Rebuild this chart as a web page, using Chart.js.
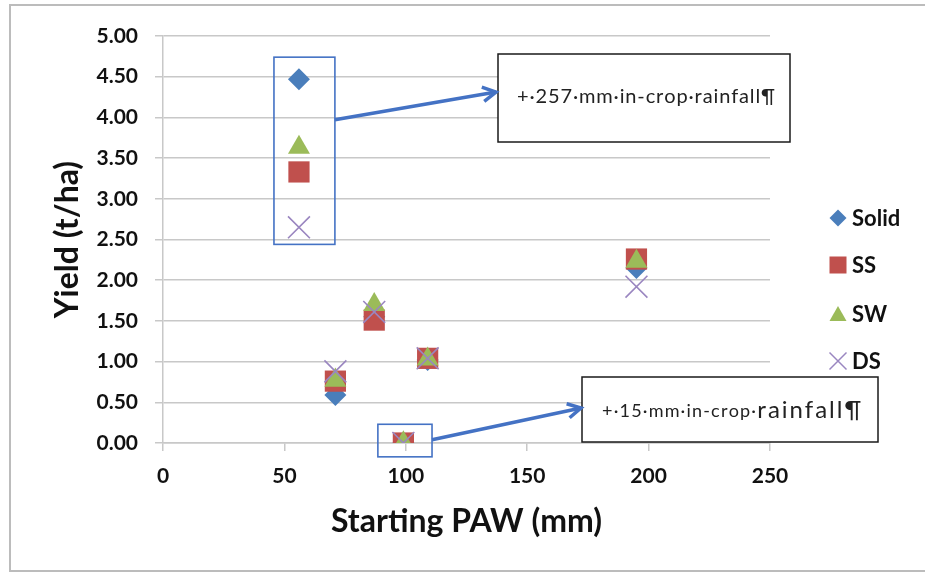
<!DOCTYPE html>
<html><head><meta charset="utf-8">
<script src="https://cdn.jsdelivr.net/npm/chart.js@4.4.1/dist/chart.umd.min.js"></script>
<style>html,body{margin:0;padding:0;background:#fff;}canvas{display:block;}</style>
</head><body>
<canvas id="c" width="925" height="574"></canvas>
<script>
// ---- data ----
const seriesNames = ['Solid', 'SS', 'SW', 'DS'];
const paw   = [56, 71, 87, 99, 109, 195];          // Starting PAW (mm)
const solid = [4.47, 0.59, 1.55, 0.00, 1.02, 2.15];
const ss    = [3.33, 0.76, 1.51, 0.00, 1.04, 2.26];
const sw    = [3.63, 0.77, 1.70, 0.00, 1.03, 2.23];
const ds    = [2.65, 0.88, 1.61, 0.00, 1.04, 1.92];
const xTickValues = [0, 50, 100, 150, 200, 250];
const yTickValues = [0, 0.5, 1, 1.5, 2, 2.5, 3, 3.5, 4, 4.5, 5];
const xTitle = 'Starting PAW (mm)';
const yTitle = 'Yield (t/ha)';
const note1 = '+·257·mm·in-crop·rainfall¶';
const note2a = '+·15·mm·in-crop·';
const note2b = 'rainfall¶';

// ---- styles ----
const FONT = 'Lato, "Open Sans", sans-serif';
const colors = ['#4a7ebb', '#c0504d', '#9bbb59', '#9a86c0'];
const styles = ['rectRot', 'rect', 'triangle', 'crossRot'];
const radii = [11, 15, 12.7, 15.5];

const toPts = arr => paw.map((x, i) => ({x: x, y: arr[i]}));
const seriesData = [solid, ss, sw, ds];

const datasets = seriesNames.map((name, i) => ({
  label: name,
  data: toPts(seriesData[i]),
  pointStyle: styles[i],
  pointRadius: radii[i],
  backgroundColor: colors[i],
  borderColor: colors[i],
  borderWidth: i === 3 ? 1.6 : 0,
  order: 4 - i,
  showLine: false
}));

const framePlugin = {
  id: 'frame',
  beforeDraw(chart) {
    const c = chart.ctx;
    c.save();
    c.fillStyle = '#fff';
    c.fillRect(0, 0, chart.width, chart.height);
    c.strokeStyle = '#bcbcbc';
    c.lineWidth = 2;
    c.strokeRect(10, 5, 940, 566);
    c.restore();
  }
};

function arrow(c, x1, y1, x2, y2) {
  c.beginPath();
  c.moveTo(x1, y1);
  c.lineTo(x2, y2);
  c.stroke();
  const a = Math.atan2(y2 - y1, x2 - x1);
  const L = 15, w = 0.5;
  c.beginPath();
  c.moveTo(x2 - L * Math.cos(a - w), y2 - L * Math.sin(a - w));
  c.lineTo(x2, y2);
  c.lineTo(x2 - L * Math.cos(a + w), y2 - L * Math.sin(a + w));
  c.stroke();
}

// draw text stretched to a target width by spacing the characters; returns end x
function spacedText(c, text, x, y, targetW) {
  const chars = Array.from(text);
  const widths = chars.map(ch => c.measureText(ch).width);
  const total = widths.reduce((a, b) => a + b, 0);
  const gap = chars.length > 1 ? (targetW - total) / (chars.length - 1) : 0;
  let cx = x;
  chars.forEach((ch, i) => { c.fillText(ch, cx, y); cx += widths[i] + (i < chars.length - 1 ? gap : 0); });
  return {end: cx, gap: gap};
}

function legendMarker(c, style, x, y, color) {
  c.save();
  c.fillStyle = color; c.strokeStyle = color;
  c.beginPath();
  if (style === 'rectRot') {
    const r = 8.5;
    c.moveTo(x, y - r); c.lineTo(x + r, y); c.lineTo(x, y + r); c.lineTo(x - r, y); c.closePath(); c.fill();
  } else if (style === 'rect') {
    c.fillRect(x - 8.5, y - 8.5, 17, 17);
  } else if (style === 'triangle') {
    c.moveTo(x, y - 8); c.lineTo(x + 8.5, y + 7); c.lineTo(x - 8.5, y + 7); c.closePath(); c.fill();
  } else {
    c.lineWidth = 1.5;
    c.moveTo(x - 8.5, y - 8.5); c.lineTo(x + 8.5, y + 8.5);
    c.moveTo(x + 8.5, y - 8.5); c.lineTo(x - 8.5, y + 8.5);
    c.stroke();
  }
  c.restore();
}

const annotPlugin = {
  id: 'annot',
  afterDraw(chart) {
    const c = chart.ctx;
    const xs = chart.scales.x, ys = chart.scales.y;
    c.save();
    // boxes around point groups (data units)
    c.strokeStyle = '#4472c4';
    c.lineWidth = 1.6;
    const b1 = [xs.getPixelForValue(45.7), ys.getPixelForValue(4.74), xs.getPixelForValue(70.8), ys.getPixelForValue(2.44)];
    const b2 = [xs.getPixelForValue(88.5), ys.getPixelForValue(0.23), xs.getPixelForValue(110.8), ys.getPixelForValue(-0.17)];
    c.strokeRect(b1[0], b1[1], b1[2] - b1[0], b1[3] - b1[1]);
    c.strokeRect(b2[0], b2[1], b2[2] - b2[0], b2[3] - b2[1]);

    // text boxes
    const t1 = {x: 498, y: 54, w: 292, h: 88};
    const t2 = {x: 582, y: 377, w: 296, h: 65};
    [t1, t2].forEach(t => {
      c.fillStyle = '#fff';
      c.fillRect(t.x, t.y, t.w, t.h);
      c.strokeStyle = '#1a1a1a';
      c.lineWidth = 1.5;
      c.strokeRect(t.x, t.y, t.w, t.h);
    });

    // arrows
    c.strokeStyle = '#4472c4';
    c.lineWidth = 3.5;
    c.lineCap = 'butt';
    c.lineJoin = 'miter';
    arrow(c, b1[2], ys.getPixelForValue(3.97), t1.x - 2, 92);
    arrow(c, b2[2], ys.getPixelForValue(0.04), t2.x - 1, 408);

    // note text
    c.fillStyle = '#222';
    c.textBaseline = 'middle';
    c.textAlign = 'left';
    c.font = '20px ' + FONT;
    spacedText(c, note1, 517, 97, 258);
    c.font = '18px ' + FONT;
    const r = spacedText(c, note2a, 602, 411, 154);
    c.font = '24px ' + FONT;
    spacedText(c, note2b, r.end + r.gap, 410, 104);

    // legend
    const rows = [218, 265, 314, 361];
    c.font = 'bold 22px ' + FONT;
    seriesNames.forEach((n, i) => {
      legendMarker(c, styles[i], 838, rows[i], colors[i]);
      c.fillStyle = '#111';
      c.fillText(n, 852, rows[i] + 1);
    });
    c.restore();
  }
};

const tickFont = {family: FONT, size: 21, weight: 'bold'};
const gridCol = '#c8c8c8';

new Chart(document.getElementById('c').getContext('2d'), {
  type: 'scatter',
  data: {datasets: datasets},
  options: {
    responsive: false,
    animation: false,
    events: [],
    layout: {padding: {left: 0, top: 36, right: 155, bottom: 0}},
    plugins: {legend: {display: false}, tooltip: {enabled: false}},
    scales: {
      x: {
        type: 'linear', min: 0, max: 250,
        afterBuildTicks: s => { s.ticks = xTickValues.map(v => ({value: v})); },
        afterFit: s => { s.height = 131; },
        ticks: {font: tickFont, color: '#111', padding: 13, maxRotation: 0, callback: v => String(v)},
        grid: {drawOnChartArea: false, drawTicks: true, tickLength: 8, color: gridCol, lineWidth: 1.5},
        border: {color: gridCol, width: 1.5},
        title: {display: true, text: xTitle, font: {family: FONT, size: 32, weight: 'bold'}, color: '#111', padding: {top: 0, bottom: 33}}
      },
      y: {
        type: 'linear', min: 0, max: 5,
        afterBuildTicks: s => { s.ticks = yTickValues.map(v => ({value: v})); },
        afterFit: s => { s.width = 163; },
        ticks: {font: tickFont, color: '#111', padding: 17, callback: v => Number(v).toFixed(2)},
        grid: {drawOnChartArea: true, drawTicks: true, tickLength: 8, color: gridCol, lineWidth: 1.5},
        border: {color: gridCol, width: 1.5},
        title: {display: true, text: yTitle, font: {family: FONT, size: 32, weight: 'bold'}, color: '#111', padding: {top: 48, bottom: 0}}
      }
    }
  },
  plugins: [framePlugin, annotPlugin]
});
</script>
</body></html>
